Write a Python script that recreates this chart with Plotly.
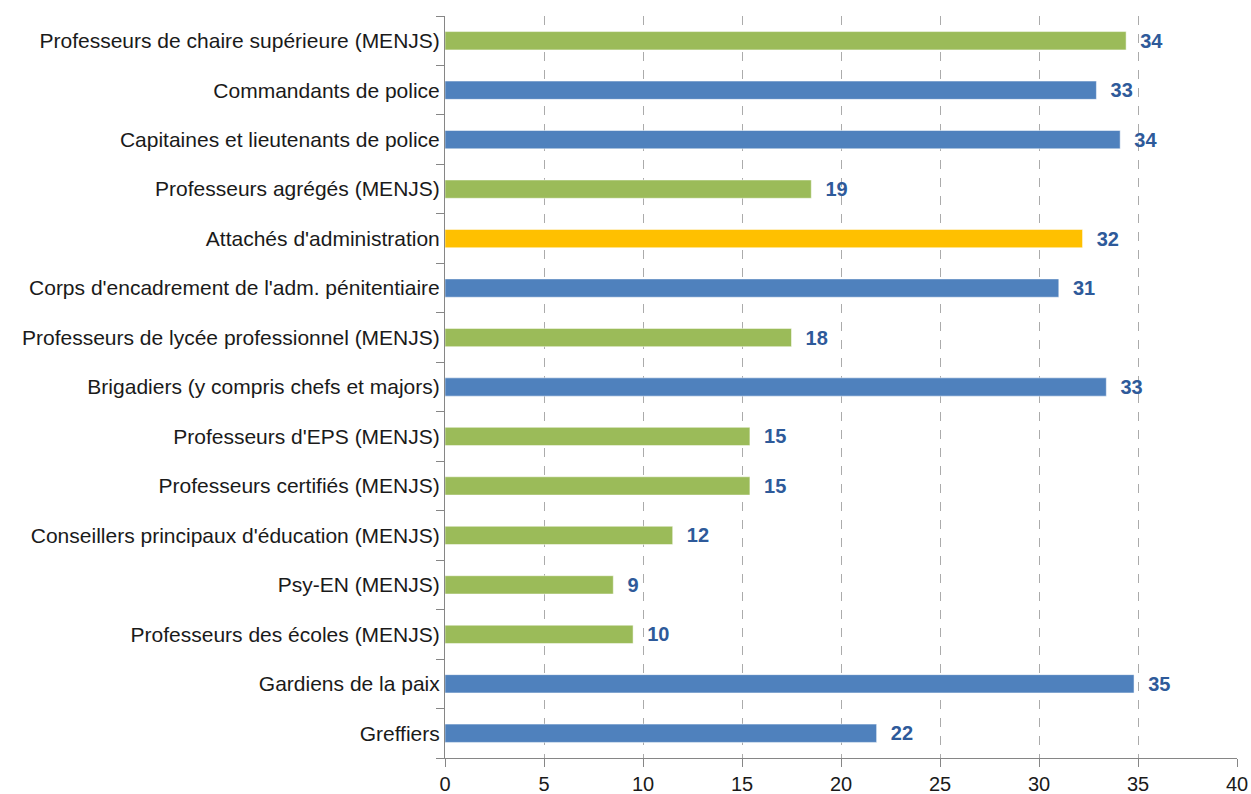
import plotly.graph_objects as go

categories = [
    "Professeurs de chaire supérieure (MENJS)",
    "Commandants de police",
    "Capitaines et lieutenants de police",
    "Professeurs agrégés (MENJS)",
    "Attachés d'administration",
    "Corps d'encadrement de l'adm. pénitentiaire",
    "Professeurs de lycée professionnel (MENJS)",
    "Brigadiers (y compris chefs et majors)",
    "Professeurs d'EPS (MENJS)",
    "Professeurs certifiés (MENJS)",
    "Conseillers principaux d'éducation (MENJS)",
    "Psy-EN (MENJS)",
    "Professeurs des écoles (MENJS)",
    "Gardiens de la paix",
    "Greffiers",
]
values = [34.4, 32.9, 34.1, 18.5, 32.2, 31.0, 17.5, 33.4, 15.4, 15.4, 11.5, 8.5, 9.5, 34.8, 21.8]
value_labels = ["34", "33", "34", "19", "32", "31", "18", "33", "15", "15", "12", "9", "10", "35", "22"]
groups = ["g", "b", "b", "g", "o", "b", "g", "b", "g", "g", "g", "g", "g", "b", "b"]

color_map = {"g": "#9BBB59", "b": "#4F81BD", "o": "#FFC000"}
colors = [color_map[g] for g in groups]

fig = go.Figure(go.Bar(
    x=values, y=categories, orientation="h",
    marker=dict(color=colors, line=dict(color="rgba(255,255,255,0.5)", width=1)),
    text=["  " + t for t in value_labels], textposition="outside", cliponaxis=False,
    constraintext="none",
    textfont=dict(family="Liberation Sans, Arial", size=20, color="#2E5A9A", weight="bold"),
    width=0.37,
    hoverinfo="skip",
))

fig.update_layout(
    width=1251, height=794,
    margin=dict(l=445, r=14, t=16, b=36),
    paper_bgcolor="white", plot_bgcolor="white",
    showlegend=False,
    font=dict(family="Liberation Sans, Arial", size=21, color="#1A1A1A"),
    xaxis=dict(
        range=[0, 40], dtick=5, tick0=0, automargin=False,
        showgrid=True, gridcolor="#ABABAB", griddash="dash", gridwidth=1,
        showline=True, linecolor="#868686", linewidth=1,
        ticks="outside", ticklen=8, tickcolor="#868686",
        tickfont=dict(size=20, color="#1A1A1A"),
        zeroline=False,
    ),
    yaxis=dict(
        categoryorder="array", categoryarray=categories[::-1], automargin=False,
        showline=True, linecolor="#868686", linewidth=1,
        ticks="outside", tickson="boundaries", ticklen=8, tickcolor="#868686",
        tickfont=dict(size=21, color="#1A1A1A"),
        showgrid=False,
    ),
)

fig.write_html(
    "out.html",
    config={"displayModeBar": False},
    post_script="document.body.style.margin='0';document.body.style.overflow='hidden';",
)
